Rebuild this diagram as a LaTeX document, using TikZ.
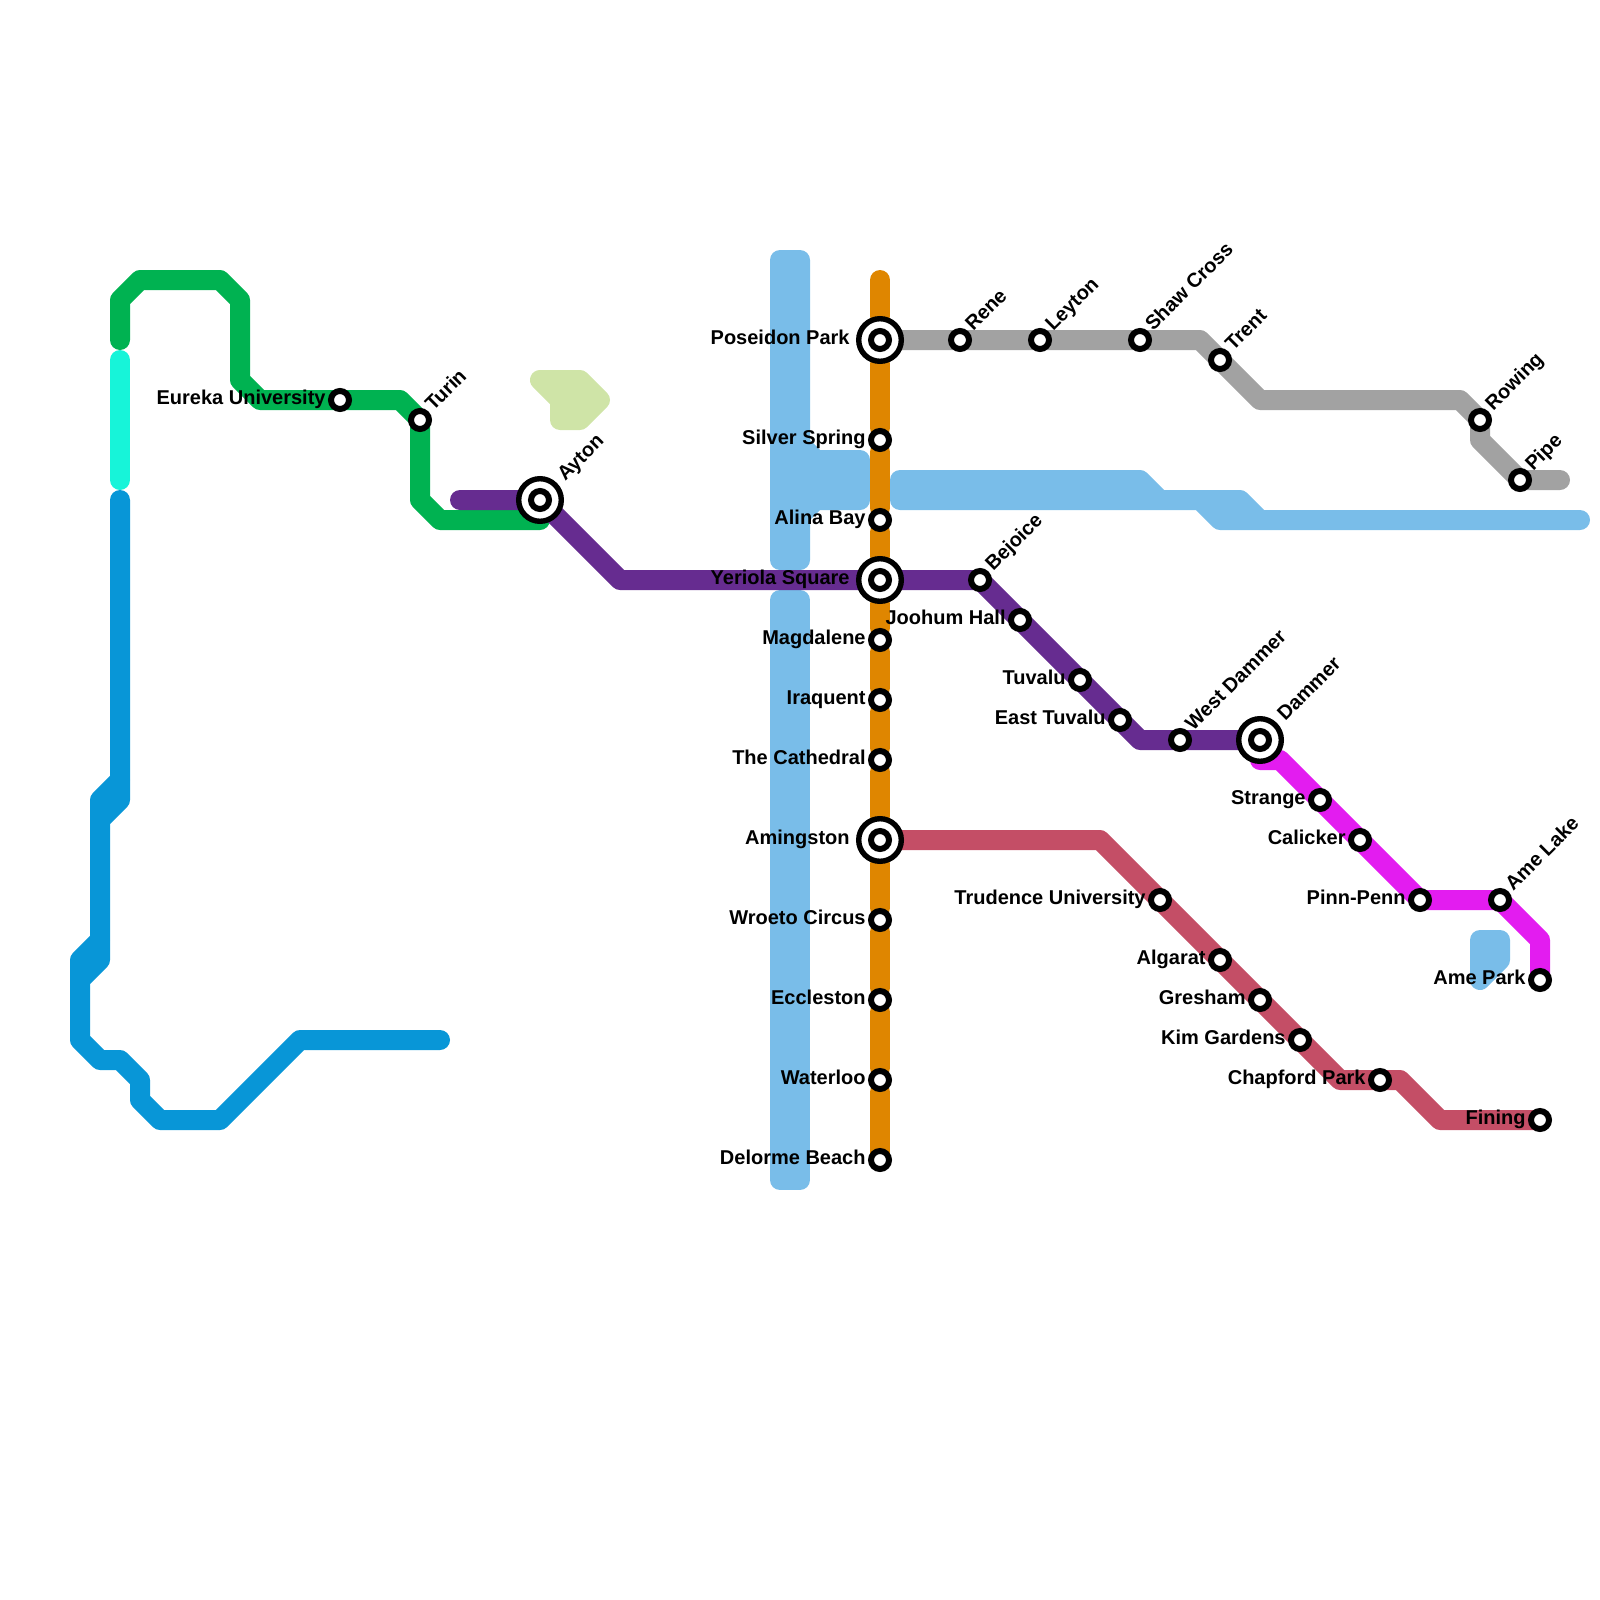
\documentclass[tikz,border=0pt]{standalone}
\usepackage{fontspec}
\setmainfont{Liberation Sans}
\usetikzlibrary{backgrounds}

\definecolor{cblue}{HTML}{0896D7}
\definecolor{cwater}{HTML}{79BDE9}
\definecolor{cteal}{HTML}{17F4D9}
\definecolor{cgreen}{HTML}{00B251}
\definecolor{cpurple}{HTML}{662C90}
\definecolor{corange}{HTML}{DF8600}
\definecolor{cgrey}{HTML}{A2A2A2}
\definecolor{crose}{HTML}{C44E66}
\definecolor{cmagenta}{HTML}{E31CF0}
\definecolor{cpark}{HTML}{CFE4A7}

\tikzset{
    metro/.style={line width=10pt,line cap=round,line join=round},
    area/.style={line width=10pt,line join=round,draw=#1,fill=#1},
    stn/.style={circle,draw=black,fill=white,line width=3pt,minimum size=9pt,inner sep=0pt},
    hub/.style={circle,draw=black,fill=white,line width=2.7pt,minimum size=21.3pt,inner sep=0pt,
        label={[stn]center:}},
    txt/.style={font=\bfseries\fontsize{10}{12}\selectfont,text=black,inner sep=0pt},
    % station kinds: w = label to the west, r = label rotated to the north east
    stnw/.style={stn},
    stnr/.style={stn},
    hubw/.style={hub},
    hubr/.style={hub},
    stnw txt/.style={txt,anchor=base east,xshift=-7pt,yshift=-2.3pt},
    hubw txt/.style={txt,anchor=base east,xshift=-15pt,yshift=-2.3pt},
    stnr txt/.style={txt,anchor=base west,xshift=6.5pt,yshift=4pt,rotate=45},
    hubr txt/.style={txt,anchor=base west,xshift=12.5pt,yshift=9pt,rotate=45},
}

\begin{document}
\begin{tikzpicture}[x=.5pt,y=-.5pt]
    \useasboundingbox (0,0) rectangle (1600,1600);

    % stations
    \foreach \nm/\x/\y/\kind/\lab in {
        poseidon/880/340/hubw/Poseidon Park, silver/880/440/stnw/Silver Spring,
        alina/880/520/stnw/Alina Bay, yeriola/880/580/hubw/Yeriola Square,
        magdalene/880/640/stnw/Magdalene, iraquent/880/700/stnw/Iraquent,
        cathedral/880/760/stnw/The Cathedral, amingston/880/840/hubw/Amingston,
        wroeto/880/920/stnw/Wroeto Circus, eccleston/880/1000/stnw/Eccleston,
        waterloo/880/1080/stnw/Waterloo, delorme/880/1160/stnw/Delorme Beach,
        eureka/340/400/stnw/Eureka University, turin/420/420/stnr/Turin,
        ayton/540/500/hubr/Ayton, rene/960/340/stnr/Rene,
        leyton/1040/340/stnr/Leyton, shaw/1140/340/stnr/Shaw Cross,
        trent/1220/360/stnr/Trent, rowing/1480/420/stnr/Rowing,
        pipe/1520/480/stnr/Pipe, bejoice/980/580/stnr/Bejoice,
        joohum/1020/620/stnw/Joohum Hall, tuvalu/1080/680/stnw/Tuvalu,
        easttuv/1120/720/stnw/East Tuvalu, westdam/1180/740/stnr/West Dammer,
        dammer/1260/740/hubr/Dammer, strange/1320/800/stnw/Strange,
        calicker/1360/840/stnw/Calicker, pinn/1420/900/stnw/Pinn-Penn,
        amelake/1500/900/stnr/Ame Lake, amepark/1540/980/stnw/Ame Park,
        trudence/1160/900/stnw/Trudence University, algarat/1220/960/stnw/Algarat,
        gresham/1260/1000/stnw/Gresham, kim/1300/1040/stnw/Kim Gardens,
        chapford/1380/1080/stnw/Chapford Park, fining/1540/1120/stnw/Fining}{
        \node[\kind] (\nm) at (\x,\y) {};
        \node[\kind\space txt] (\nm-txt) at (\x,\y) {\lab};
    }

    % bends and free ends of the lines
    \foreach \nm/\x/\y in {
        or0/880/280, or1/880/1160,
        te0/120/360, te1/120/480,
        gr0/120/340, gr1/120/300, gr2/140/280, gr3/220/280, gr4/240/300, gr5/240/380,
        gr6/260/400, gr7/400/400, gr8/420/500, gr9/440/520, gr10/540/520,
        bl0/120/500, bl1/120/800, bl2/100/820, bl3/120/780, bl4/100/800, bl5/100/960,
        bl6/80/980, bl7/100/940, bl8/80/960, bl9/80/1040, bl10/100/1060, bl11/120/1060,
        bl12/140/1080, bl13/140/1100, bl14/160/1120, bl15/220/1120, bl16/300/1040, bl17/440/1040,
        pu0/460/500, pu1/620/580, pu2/1140/740,
        ma0/1260/760, ma1/1280/760, ma2/1540/940,
        gy0/1200/340, gy1/1260/400, gy2/1460/400, gy3/1480/440, gy4/1560/480,
        ro0/1100/840, ro1/1340/1080, ro2/1400/1080, ro3/1440/1120}{
        \coordinate (\nm) at (\x,\y);
    }

    \begin{scope}[on background layer]
        % water and park
        \draw[area=cwater] (780,260) -- (800,260) -- (800,444) -- (816,460) -- (860,460) -- (860,500)
            -- (816,500) -- (800,516) -- (800,560) -- (780,560) -- cycle;
        \draw[area=cwater] (780,600) -- (800,600) -- (800,1180) -- (780,1180) -- cycle;
        \draw[area=cwater] (900,480) -- (1140,480) -- (1160,500) -- (1240,500) -- (1260,520) -- (1580,520)
            -- (1220,520) -- (1200,500) -- (900,500) -- cycle;
        \draw[area=cwater] (1480,940) -- (1500,940) -- (1500,960) -- (1480,980) -- cycle;
        \draw[area=cpark] (540,380) -- (580,380) -- (600,400) -- (580,420) -- (560,420) -- (560,400) -- cycle;

        % lines
        \draw[metro,corange] (or0) -- (poseidon) -- (silver) -- (alina) -- (yeriola) -- (magdalene)
            -- (iraquent) -- (cathedral) -- (amingston) -- (wroeto) -- (eccleston) -- (waterloo) -- (or1);
        \draw[metro,cteal] (te0) -- (te1);
        \draw[metro,cgreen] (gr0) -- (gr1) -- (gr2) -- (gr3) -- (gr4) -- (gr5) -- (gr6) -- (eureka.center)
            -- (gr7) -- (turin.center) -- (gr8) -- (gr9) -- (gr10);
        \draw[metro,cblue] (bl0) -- (bl1) -- (bl2) -- (bl5) -- (bl6) -- (bl9) -- (bl10) -- (bl11) -- (bl12)
            -- (bl13) -- (bl14) -- (bl15) -- (bl16) -- (bl17);
        \draw[metro,cblue] (bl3) -- (bl4) -- (bl2);
        \draw[metro,cblue] (bl7) -- (bl8) -- (bl6);
        \draw[metro,cpurple] (pu0) -- (ayton.center) -- (pu1) -- (yeriola.center) -- (bejoice.center)
            -- (joohum.center) -- (tuvalu.center) -- (easttuv.center) -- (pu2) -- (westdam.center) -- (dammer.center);
        \draw[metro,cmagenta] (dammer.center) -- (ma0) -- (ma1) -- (strange.center) -- (calicker.center)
            -- (pinn.center) -- (amelake.center) -- (ma2) -- (amepark.center);
        \draw[metro,cgrey] (poseidon.center) -- (rene.center) -- (leyton.center) -- (shaw.center) -- (gy0)
            -- (trent.center) -- (gy1) -- (gy2) -- (rowing.center) -- (gy3) -- (pipe.center) -- (gy4);
        \draw[metro,crose] (amingston.center) -- (ro0) -- (trudence.center) -- (algarat.center)
            -- (gresham.center) -- (kim.center) -- (ro1) -- (chapford.center) -- (ro2) -- (ro3) -- (fining.center);
    \end{scope}
\end{tikzpicture}
\end{document}
